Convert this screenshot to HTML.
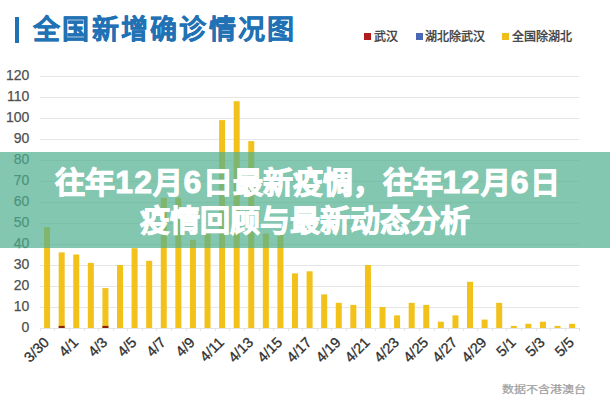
<!DOCTYPE html>
<html lang="zh-CN"><head><meta charset="utf-8">
<style>
html,body{margin:0;padding:0;background:#fff;}
body{width:610px;height:400px;position:relative;overflow:hidden;font-family:"Liberation Sans",sans-serif;}
.abs{position:absolute;}
#bar{left:15px;top:17px;width:4.2px;height:26px;background:#2171b5;}
#title{left:33px;top:11px;font-size:27px;font-weight:bold;color:#2171b5;letter-spacing:2.3px;-webkit-text-stroke:0.4px #2171b5;white-space:nowrap;line-height:38px;}
.leg{top:29.5px;font-size:12px;color:#3a3a3a;white-space:nowrap;line-height:14px;-webkit-text-stroke:0.35px #3a3a3a;}
.sq{top:33px;width:6.5px;height:7px;}
#foot{left:501.5px;top:381.5px;font-size:12px;line-height:16px;transform:scaleY(0.82);transform-origin:50% 8px;color:#a0a0a0;white-space:nowrap;-webkit-text-stroke:0.3px #a0a0a0;}
#banner{left:0;top:152px;width:610px;height:96px;background:rgba(78,175,144,0.70);}
.bt{left:0;width:610px;text-align:center;color:#fff;font-weight:bold;font-size:30px;white-space:nowrap;line-height:38px;-webkit-text-stroke:1px #fff;}
.d{font-size:32px;letter-spacing:1.3px;}
svg text{font-family:"Liberation Sans",sans-serif;}
</style></head><body>
<svg class="abs" style="left:0;top:0" width="610" height="400" viewBox="0 0 610 400">
<line x1="39.8" y1="307.5" x2="579.4" y2="307.5" stroke="#e6e6e6" stroke-width="1"/><line x1="39.8" y1="286.5" x2="579.4" y2="286.5" stroke="#e6e6e6" stroke-width="1"/><line x1="39.8" y1="265.5" x2="579.4" y2="265.5" stroke="#e6e6e6" stroke-width="1"/><line x1="39.8" y1="244.5" x2="579.4" y2="244.5" stroke="#e6e6e6" stroke-width="1"/><line x1="39.8" y1="223.5" x2="579.4" y2="223.5" stroke="#e6e6e6" stroke-width="1"/><line x1="39.8" y1="202.5" x2="579.4" y2="202.5" stroke="#e6e6e6" stroke-width="1"/><line x1="39.8" y1="181.5" x2="579.4" y2="181.5" stroke="#e6e6e6" stroke-width="1"/><line x1="39.8" y1="160.5" x2="579.4" y2="160.5" stroke="#e6e6e6" stroke-width="1"/><line x1="39.8" y1="139.5" x2="579.4" y2="139.5" stroke="#e6e6e6" stroke-width="1"/><line x1="39.8" y1="118.5" x2="579.4" y2="118.5" stroke="#e6e6e6" stroke-width="1"/><line x1="39.8" y1="97.5" x2="579.4" y2="97.5" stroke="#e6e6e6" stroke-width="1"/><line x1="39.8" y1="76.5" x2="579.4" y2="76.5" stroke="#e6e6e6" stroke-width="1"/><rect x="44.09" y="227.20" width="6.0" height="100.80" fill="#f2c11a"/><rect x="58.68" y="252.40" width="6.0" height="75.60" fill="#f2c11a"/><rect x="58.68" y="325.90" width="6.0" height="2.10" fill="#8c1f0c"/><rect x="73.26" y="254.50" width="6.0" height="73.50" fill="#f2c11a"/><rect x="87.84" y="262.90" width="6.0" height="65.10" fill="#f2c11a"/><rect x="102.43" y="288.10" width="6.0" height="39.90" fill="#f2c11a"/><rect x="102.43" y="325.90" width="6.0" height="2.10" fill="#8c1f0c"/><rect x="117.01" y="265.00" width="6.0" height="63.00" fill="#f2c11a"/><rect x="131.59" y="248.20" width="6.0" height="79.80" fill="#f2c11a"/><rect x="146.18" y="260.80" width="6.0" height="67.20" fill="#f2c11a"/><rect x="160.76" y="197.80" width="6.0" height="130.20" fill="#f2c11a"/><rect x="175.35" y="197.80" width="6.0" height="130.20" fill="#f2c11a"/><rect x="189.93" y="239.80" width="6.0" height="88.20" fill="#f2c11a"/><rect x="204.51" y="231.40" width="6.0" height="96.60" fill="#f2c11a"/><rect x="219.10" y="120.10" width="6.0" height="207.90" fill="#f2c11a"/><rect x="233.68" y="101.20" width="6.0" height="226.80" fill="#f2c11a"/><rect x="248.26" y="141.10" width="6.0" height="186.90" fill="#f2c11a"/><rect x="262.85" y="233.50" width="6.0" height="94.50" fill="#f2c11a"/><rect x="277.43" y="233.50" width="6.0" height="94.50" fill="#f2c11a"/><rect x="292.02" y="273.40" width="6.0" height="54.60" fill="#f2c11a"/><rect x="306.60" y="271.30" width="6.0" height="56.70" fill="#f2c11a"/><rect x="321.18" y="294.40" width="6.0" height="33.60" fill="#f2c11a"/><rect x="335.77" y="302.80" width="6.0" height="25.20" fill="#f2c11a"/><rect x="350.35" y="304.90" width="6.0" height="23.10" fill="#f2c11a"/><rect x="364.94" y="265.00" width="6.0" height="63.00" fill="#f2c11a"/><rect x="379.52" y="307.00" width="6.0" height="21.00" fill="#f2c11a"/><rect x="394.10" y="315.40" width="6.0" height="12.60" fill="#f2c11a"/><rect x="408.69" y="302.80" width="6.0" height="25.20" fill="#f2c11a"/><rect x="423.27" y="304.90" width="6.0" height="23.10" fill="#f2c11a"/><rect x="437.85" y="321.70" width="6.0" height="6.30" fill="#f2c11a"/><rect x="452.44" y="315.40" width="6.0" height="12.60" fill="#f2c11a"/><rect x="467.02" y="281.80" width="6.0" height="46.20" fill="#f2c11a"/><rect x="481.61" y="319.60" width="6.0" height="8.40" fill="#f2c11a"/><rect x="496.19" y="302.80" width="6.0" height="25.20" fill="#f2c11a"/><rect x="510.77" y="325.90" width="6.0" height="2.10" fill="#f2c11a"/><rect x="525.36" y="323.80" width="6.0" height="4.20" fill="#f2c11a"/><rect x="539.94" y="321.70" width="6.0" height="6.30" fill="#f2c11a"/><rect x="554.52" y="325.90" width="6.0" height="2.10" fill="#f2c11a"/><rect x="569.11" y="323.80" width="6.0" height="4.20" fill="#f2c11a"/><line x1="39.8" y1="328.5" x2="579.4" y2="328.5" stroke="#e3e3e3" stroke-width="1"/><line x1="40.5" y1="328.0" x2="40.5" y2="331.0" stroke="#e3e3e3" stroke-width="1"/><line x1="54.5" y1="328.0" x2="54.5" y2="331.0" stroke="#e3e3e3" stroke-width="1"/><line x1="69.5" y1="328.0" x2="69.5" y2="331.0" stroke="#e3e3e3" stroke-width="1"/><line x1="84.5" y1="328.0" x2="84.5" y2="331.0" stroke="#e3e3e3" stroke-width="1"/><line x1="98.5" y1="328.0" x2="98.5" y2="331.0" stroke="#e3e3e3" stroke-width="1"/><line x1="113.5" y1="328.0" x2="113.5" y2="331.0" stroke="#e3e3e3" stroke-width="1"/><line x1="127.5" y1="328.0" x2="127.5" y2="331.0" stroke="#e3e3e3" stroke-width="1"/><line x1="142.5" y1="328.0" x2="142.5" y2="331.0" stroke="#e3e3e3" stroke-width="1"/><line x1="156.5" y1="328.0" x2="156.5" y2="331.0" stroke="#e3e3e3" stroke-width="1"/><line x1="171.5" y1="328.0" x2="171.5" y2="331.0" stroke="#e3e3e3" stroke-width="1"/><line x1="186.5" y1="328.0" x2="186.5" y2="331.0" stroke="#e3e3e3" stroke-width="1"/><line x1="200.5" y1="328.0" x2="200.5" y2="331.0" stroke="#e3e3e3" stroke-width="1"/><line x1="215.5" y1="328.0" x2="215.5" y2="331.0" stroke="#e3e3e3" stroke-width="1"/><line x1="229.5" y1="328.0" x2="229.5" y2="331.0" stroke="#e3e3e3" stroke-width="1"/><line x1="244.5" y1="328.0" x2="244.5" y2="331.0" stroke="#e3e3e3" stroke-width="1"/><line x1="259.5" y1="328.0" x2="259.5" y2="331.0" stroke="#e3e3e3" stroke-width="1"/><line x1="273.5" y1="328.0" x2="273.5" y2="331.0" stroke="#e3e3e3" stroke-width="1"/><line x1="288.5" y1="328.0" x2="288.5" y2="331.0" stroke="#e3e3e3" stroke-width="1"/><line x1="302.5" y1="328.0" x2="302.5" y2="331.0" stroke="#e3e3e3" stroke-width="1"/><line x1="317.5" y1="328.0" x2="317.5" y2="331.0" stroke="#e3e3e3" stroke-width="1"/><line x1="331.5" y1="328.0" x2="331.5" y2="331.0" stroke="#e3e3e3" stroke-width="1"/><line x1="346.5" y1="328.0" x2="346.5" y2="331.0" stroke="#e3e3e3" stroke-width="1"/><line x1="361.5" y1="328.0" x2="361.5" y2="331.0" stroke="#e3e3e3" stroke-width="1"/><line x1="375.5" y1="328.0" x2="375.5" y2="331.0" stroke="#e3e3e3" stroke-width="1"/><line x1="390.5" y1="328.0" x2="390.5" y2="331.0" stroke="#e3e3e3" stroke-width="1"/><line x1="404.5" y1="328.0" x2="404.5" y2="331.0" stroke="#e3e3e3" stroke-width="1"/><line x1="419.5" y1="328.0" x2="419.5" y2="331.0" stroke="#e3e3e3" stroke-width="1"/><line x1="434.5" y1="328.0" x2="434.5" y2="331.0" stroke="#e3e3e3" stroke-width="1"/><line x1="448.5" y1="328.0" x2="448.5" y2="331.0" stroke="#e3e3e3" stroke-width="1"/><line x1="463.5" y1="328.0" x2="463.5" y2="331.0" stroke="#e3e3e3" stroke-width="1"/><line x1="477.5" y1="328.0" x2="477.5" y2="331.0" stroke="#e3e3e3" stroke-width="1"/><line x1="492.5" y1="328.0" x2="492.5" y2="331.0" stroke="#e3e3e3" stroke-width="1"/><line x1="506.5" y1="328.0" x2="506.5" y2="331.0" stroke="#e3e3e3" stroke-width="1"/><line x1="521.5" y1="328.0" x2="521.5" y2="331.0" stroke="#e3e3e3" stroke-width="1"/><line x1="536.5" y1="328.0" x2="536.5" y2="331.0" stroke="#e3e3e3" stroke-width="1"/><line x1="550.5" y1="328.0" x2="550.5" y2="331.0" stroke="#e3e3e3" stroke-width="1"/><line x1="565.5" y1="328.0" x2="565.5" y2="331.0" stroke="#e3e3e3" stroke-width="1"/><line x1="579.5" y1="328.0" x2="579.5" y2="331.0" stroke="#e3e3e3" stroke-width="1"/>
<g font-size="14" fill="#505050" stroke="#505050" stroke-width="0.25"><text x="29.3" y="332.2" text-anchor="end">0</text><text x="29.3" y="311.2" text-anchor="end">10</text><text x="29.3" y="290.2" text-anchor="end">20</text><text x="29.3" y="269.2" text-anchor="end">30</text><text x="29.3" y="248.2" text-anchor="end">40</text><text x="29.3" y="227.2" text-anchor="end">50</text><text x="29.3" y="206.2" text-anchor="end">60</text><text x="29.3" y="185.2" text-anchor="end">70</text><text x="29.3" y="164.2" text-anchor="end">80</text><text x="29.3" y="143.2" text-anchor="end">90</text><text x="29.3" y="122.2" text-anchor="end">100</text><text x="29.3" y="101.2" text-anchor="end">110</text><text x="29.3" y="80.2" text-anchor="end">120</text></g>
<g font-size="14.5" fill="#303030" stroke="#303030" stroke-width="0.3"><text transform="translate(49.9,343.2) rotate(-45)" text-anchor="end">3/30</text><text transform="translate(79.1,343.2) rotate(-45)" text-anchor="end">4/1</text><text transform="translate(108.2,343.2) rotate(-45)" text-anchor="end">4/3</text><text transform="translate(137.4,343.2) rotate(-45)" text-anchor="end">4/5</text><text transform="translate(166.6,343.2) rotate(-45)" text-anchor="end">4/7</text><text transform="translate(195.7,343.2) rotate(-45)" text-anchor="end">4/9</text><text transform="translate(224.9,343.2) rotate(-45)" text-anchor="end">4/11</text><text transform="translate(254.1,343.2) rotate(-45)" text-anchor="end">4/13</text><text transform="translate(283.2,343.2) rotate(-45)" text-anchor="end">4/15</text><text transform="translate(312.4,343.2) rotate(-45)" text-anchor="end">4/17</text><text transform="translate(341.6,343.2) rotate(-45)" text-anchor="end">4/19</text><text transform="translate(370.7,343.2) rotate(-45)" text-anchor="end">4/21</text><text transform="translate(399.9,343.2) rotate(-45)" text-anchor="end">4/23</text><text transform="translate(429.1,343.2) rotate(-45)" text-anchor="end">4/25</text><text transform="translate(458.2,343.2) rotate(-45)" text-anchor="end">4/27</text><text transform="translate(487.4,343.2) rotate(-45)" text-anchor="end">4/29</text><text transform="translate(516.6,343.2) rotate(-45)" text-anchor="end">5/1</text><text transform="translate(545.7,343.2) rotate(-45)" text-anchor="end">5/3</text><text transform="translate(574.9,343.2) rotate(-45)" text-anchor="end">5/5</text></g>
</svg>
<div class="abs" id="bar"></div>
<div class="abs" id="title">全国新增确诊情况图</div>
<div class="abs sq" style="left:364px;background:#b01c1c"></div><div class="abs leg" style="left:374px">武汉</div>
<div class="abs sq" style="left:416px;background:#4a68b3"></div><div class="abs leg" style="left:425px">湖北除武汉</div>
<div class="abs sq" style="left:502px;background:#f0be1c"></div><div class="abs leg" style="left:511.5px">全国除湖北</div>
<div class="abs" id="foot">数据不含港澳台</div>
<div class="abs" id="banner"></div>
<div class="abs bt" style="top:162.5px;left:2.5px">往年<span class="d">12</span>月<span class="d">6</span>日最新疫惆，往年<span class="d">12</span>月<span class="d">6</span>日</div>
<div class="abs bt" style="top:202px">疫情回顾与最新动态分析</div>
</body></html>
